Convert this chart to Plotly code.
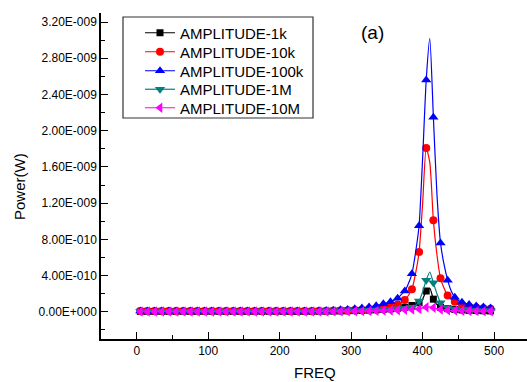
import plotly.graph_objects as go

# FREQ sampled every 5; markers drawn on every other sample (5, 15, ..., 495)
freq = list(range(0, 505, 5))

# Power values in units of 1e-10 W, one per freq sample (0..500 step 5)
amp_1k = [0.05]*50 + [
    0.06, 0.06, 0.07, 0.07, 0.08, 0.08, 0.09, 0.10, 0.10, 0.11,   # 250-295
    0.12, 0.13, 0.14, 0.15, 0.16, 0.18, 0.20, 0.22, 0.25, 0.28,   # 300-345
    0.30, 0.33, 0.36, 0.40, 0.45, 0.50, 0.60, 0.70, 0.85, 1.00,   # 350-395
    1.40, 2.30, 2.60, 1.40, 0.80, 0.50, 0.40, 0.35, 0.30, 0.26,   # 400-445
    0.23, 0.20, 0.18, 0.16, 0.15, 0.14, 0.13, 0.12, 0.11, 0.10,   # 450-495
    0.10]                                                          # 500
amp_10k = [0.08]*50 + [
    0.09, 0.09, 0.10, 0.10, 0.11, 0.12, 0.13, 0.14, 0.15, 0.16,
    0.18, 0.20, 0.22, 0.24, 0.27, 0.30, 0.33, 0.37, 0.42, 0.47,
    0.52, 0.58, 0.65, 0.80, 1.00, 1.30, 1.80, 2.50, 4.20, 6.60,
    12.0, 18.1, 16.5, 10.1, 6.30, 3.70, 2.60, 1.80, 1.40, 1.10,
    0.90, 0.78, 0.68, 0.60, 0.54, 0.48, 0.44, 0.40, 0.37, 0.34,
    0.32]
amp_100k = [0.10]*50 + [
    0.12, 0.13, 0.14, 0.15, 0.16, 0.18, 0.20, 0.22, 0.24, 0.27,
    0.30, 0.34, 0.38, 0.42, 0.47, 0.53, 0.60, 0.68, 0.78, 0.90,
    1.00, 1.10, 1.30, 1.50, 1.90, 2.30, 3.10, 4.20, 6.50, 9.50,
    17.0, 25.6, 30.2, 21.5, 13.0, 7.60, 5.20, 3.50, 2.30, 1.60,
    1.25, 1.05, 0.90, 0.80, 0.72, 0.65, 0.58, 0.52, 0.47, 0.43,
    0.40]
amp_1M = [0.06]*50 + [
    0.07, 0.07, 0.08, 0.08, 0.09, 0.09, 0.10, 0.10, 0.11, 0.12,
    0.12, 0.13, 0.14, 0.15, 0.16, 0.17, 0.18, 0.20, 0.22, 0.24,
    0.26, 0.28, 0.30, 0.33, 0.36, 0.40, 0.45, 0.50, 0.70, 1.20,
    2.20, 3.50, 4.40, 3.20, 2.00, 1.00, 0.60, 0.45, 0.36, 0.30,
    0.26, 0.23, 0.20, 0.18, 0.16, 0.15, 0.14, 0.13, 0.12, 0.11,
    0.10]
amp_10M = [0.03]*50 + [
    0.03, 0.03, 0.04, 0.04, 0.04, 0.05, 0.05, 0.05, 0.06, 0.06,
    0.07, 0.07, 0.08, 0.08, 0.09, 0.09, 0.10, 0.11, 0.12, 0.13,
    0.14, 0.15, 0.16, 0.18, 0.20, 0.22, 0.24, 0.26, 0.28, 0.30,
    0.40, 0.50, 0.55, 0.45, 0.35, 0.25, 0.20, 0.17, 0.15, 0.13,
    0.12, 0.11, 0.10, 0.09, 0.08, 0.08, 0.07, 0.07, 0.06, 0.06,
    0.06]
UNIT = 1e-10

series_names = ["AMPLITUDE-1k", "AMPLITUDE-10k", "AMPLITUDE-100k", "AMPLITUDE-1M", "AMPLITUDE-10M"]
series_values = [amp_1k, amp_10k, amp_100k, amp_1M, amp_10M]
series_colors = ["#000000", "#FF0000", "#0000FF", "#008080", "#FF00FF"]
series_symbols = ["square", "circle", "triangle-up", "triangle-down", "triangle-left"]
series_sizes = [7, 8, 9, 9, 9]

y_tickvals = [i * 4e-10 for i in range(9)]
y_ticktext = ["0.00E+000", "4.00E-010", "8.00E-010", "1.20E-009", "1.60E-009",
              "2.00E-009", "2.40E-009", "2.80E-009", "3.20E-009"]
y_minor = [-2e-10 + i * 4e-10 for i in range(9)]
x_tickvals = [0, 100, 200, 300, 400, 500]
x_minor = [-50, 50, 150, 250, 350, 450]

FONT = "Arial, 'Liberation Sans', sans-serif"

# plot area in pixels: x 101..527, y 13..339
PL, PW, PB, PH = 101, 426, 339, 326
def px(xp): return (xp - PL) / PW
def py(yp): return (PB - yp) / PH

legend_rows = [33, 52, 71, 89.5, 108]

fig = go.Figure()
for name, vals, col, sym, sz in zip(series_names, series_values, series_colors, series_symbols, series_sizes):
    y = [v * UNIT for v in vals]
    fig.add_trace(go.Scatter(x=freq, y=y, mode="lines", line=dict(color=col, width=1.2, shape="spline", smoothing=0.6),
                             showlegend=False, hoverinfo="skip"))
    fig.add_trace(go.Scatter(x=freq[1::2], y=y[1::2], mode="markers",
                             marker=dict(symbol=sym, color=col, size=sz, line=dict(width=0)),
                             showlegend=False))

legend_layouts = {}
for i, (name, col, sym, sz) in enumerate(zip(series_names, series_colors, series_symbols, series_sizes)):
    lg = "legend" if i == 0 else f"legend{i+1}"
    fig.add_trace(go.Scatter(x=[None], y=[None], mode="lines+markers", name=name, legend=lg,
                             line=dict(color=col, width=1.2),
                             marker=dict(symbol=sym, color=col, size=sz, line=dict(width=0))))
    legend_layouts[lg] = dict(x=px(140), y=py(legend_rows[i]), xanchor="left", yanchor="middle",
                              borderwidth=0, bgcolor="rgba(0,0,0,0)",
                              font=dict(size=15, family=FONT))

fig.update_layout(
    width=527, height=382,
    margin=dict(l=101, r=0, t=13, b=43),
    paper_bgcolor="white", plot_bgcolor="white",
    font=dict(family=FONT, color="#000000"),
    showlegend=True,
    shapes=[dict(type="rect", xref="paper", yref="paper", x0=px(123), x1=px(313), y0=py(118), y1=py(17),
                 line=dict(color="#333333", width=1.2), fillcolor="white", layer="below")],
    xaxis=dict(range=[-50, 546], showline=True, linecolor="black", linewidth=1.5,
               showgrid=False, zeroline=False, ticks="inside", ticklen=7, tickwidth=1.2, tickcolor="black",
               tickmode="array", tickvals=x_tickvals, tickfont=dict(size=12),
               minor=dict(tickmode="array", tickvals=x_minor, ticks="inside", ticklen=4, tickwidth=1.2, tickcolor="black")),
    yaxis=dict(range=[-3e-10, 3.3e-9], showline=True, linecolor="black", linewidth=1.5,
               showgrid=False, zeroline=False, ticks="inside", ticklen=7, tickwidth=1.2, tickcolor="black",
               tickmode="array", tickvals=y_tickvals, ticktext=y_ticktext, tickfont=dict(size=12),
               minor=dict(tickmode="array", tickvals=y_minor, ticks="inside", ticklen=4, tickwidth=1.2, tickcolor="black")),
    annotations=[
        dict(text="(a)", x=px(372), y=py(33), xref="paper", yref="paper", showarrow=False,
             xanchor="center", yanchor="middle", font=dict(size=19, family=FONT)),
        dict(text="Power(W)", x=px(19), y=py(187), xref="paper", yref="paper", showarrow=False,
             xanchor="center", yanchor="middle", textangle=-90, font=dict(size=15, family=FONT)),
        dict(text="FREQ", x=px(315), y=py(372), xref="paper", yref="paper", showarrow=False,
             xanchor="center", yanchor="middle", font=dict(size=15, family=FONT)),
    ],
)
fig.update_layout(**legend_layouts)

fig.write_html("out.html")
